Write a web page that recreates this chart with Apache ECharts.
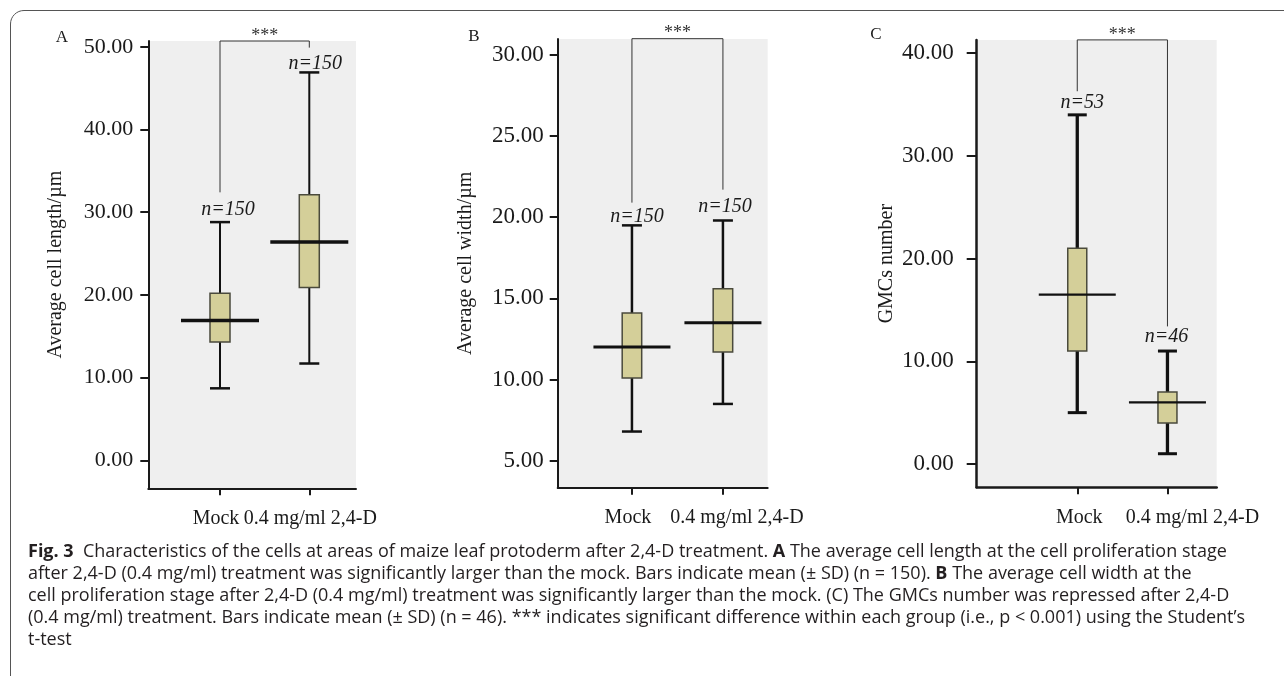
<!DOCTYPE html>
<html>
<head>
<meta charset="utf-8">
<script src="https://cdn.jsdelivr.net/npm/echarts@6/dist/echarts.min.js"></script>
<style>
  html, body { margin: 0; padding: 0; background: #fff; }
  #chart { width: 1284px; height: 676px; }
</style>
</head>
<body>
<div id="chart"></div>
<script>
// ---------------- DATA ----------------
const categories = ['Mock', '0.4 mg/ml 2,4-D'];
// each: [whisker low, box low, mean, box high, whisker high]
const lengthMock = [8.7, 14.3, 16.9, 20.2, 28.8];
const lengthDrug = [11.7, 20.9, 26.4, 32.1, 46.9];
const widthMock = [6.8, 10.1, 12.0, 14.1, 19.5];
const widthDrug = [8.5, 11.7, 13.5, 15.6, 19.8];
const gmcMock = [5, 11, 16.5, 21, 34];
const gmcDrug = [1, 4, 6, 7, 11];
const lengthN = ['n=150', 'n=150'];
const widthN = ['n=150', 'n=150'];
const gmcN = ['n=53', 'n=46'];
const lengthTicks = [0, 10, 20, 30, 40, 50];
const widthTicks = [5, 10, 15, 20, 25, 30];
const gmcTicks = [0, 10, 20, 30, 40];
// significance bracket: [left leg bottom, bracket top, right leg bottom]
const lengthBracket = [32.4, 50.7, 49.9];
const widthBracket = [20.9, 31.0, 21.7];
const gmcBracket = [36.3, 41.3, 13.4];
const yNames = ['Average cell length/µm', 'Average cell width/µm', 'GMCs number'];
const panelLetters = ['A', 'B', 'C'];
const sigMark = '***';
const captionLines = [
  '{b|Fig. 3}  Characteristics of the cells at areas of maize leaf protoderm after 2,4-D treatment. {b|A} The average cell length at the cell proliferation stage',
  'after 2,4-D (0.4 mg/ml) treatment was significantly larger than the mock. Bars indicate mean (± SD) (n = 150). {b|B} The average cell width at the',
  'cell proliferation stage after 2,4-D (0.4 mg/ml) treatment was significantly larger than the mock. (C) The GMCs number was repressed after 2,4-D',
  '(0.4 mg/ml) treatment. Bars indicate mean (± SD) (n = 46). *** indicates significant difference within each group (i.e., p < 0.001) using the Student’s',
  't-test'
];

// ---------------- LAYOUT / STYLE ----------------
const SERIF = "'Liberation Serif', 'Times New Roman', serif";
const SANS = "'Open Sans', 'Noto Sans', sans-serif";
const INK = '#1a1a1a';
const CAPTION_SIZE = 18;

const panels = [
  { mock: lengthMock, drug: lengthDrug, n: lengthN, ticks: lengthTicks, bracket: lengthBracket,
    grid: { left: 148.3, top: 41, width: 207.7, height: 447.3 },
    x: [-0.803, 1.523], y: [-3.39, 50.7],
    tickFont: 22, tickMargin: 15, tickLen: 8, nameGap: 83,
    boxW: 20, capW: 20, meanW: 78, whiskW: 2, capLW: 2.5, meanLW: 3.5, axisW: 2,
    nOff: [[8, -12], [6, -9]], labShift: [-4, 1],
    letter: [62, 38] },
  { mock: widthMock, drug: widthDrug, n: widthN, ticks: widthTicks, bracket: widthBracket,
    grid: { left: 557.7, top: 39, width: 210, height: 448.7 },
    x: [-0.816, 1.492], y: [3.34, 30.98],
    tickFont: 23, tickMargin: 14, tickLen: 8, nameGap: 82,
    boxW: 19.5, capW: 20, meanW: 77, whiskW: 2.5, capLW: 2.5, meanLW: 3, axisW: 2,
    nOff: [[5, -9], [2, -14]], labShift: [-4, 14],
    letter: [474, 37] },
  { mock: gmcMock, drug: gmcDrug, n: gmcN, ticks: gmcTicks, bracket: gmcBracket,
    grid: { left: 976.7, top: 40, width: 240, height: 447.3 },
    x: [-1.115, 1.546], y: [-2.27, 41.29],
    tickFont: 23, tickMargin: 23, tickLen: 10, nameGap: 80,
    boxW: 19, capW: 19, meanW: 77, whiskW: 3.3, capLW: 3, meanLW: 2.3, axisW: 2.5,
    nOff: [[5, -12], [-1, -14]], labShift: [2, 25],
    letter: [876, 35] }
];

function padFor(s) { return s >= 0 ? [0, 0, 0, 2 * s] : [0, -2 * s, 0, 0]; }

const chart = echarts.init(document.getElementById('chart'), null, { renderer: 'canvas' });

const grids = [], xAxes = [], yAxes = [], series = [];

panels.forEach((p, i) => {
  grids.push(Object.assign({ show: true, backgroundColor: '#efefef', borderWidth: 0 }, p.grid));
  xAxes.push({
    type: 'value', gridIndex: i, min: p.x[0], max: p.x[1],
    axisLine: { show: true, onZero: false, lineStyle: { color: INK, width: p.axisW } },
    axisTick: { show: true, customValues: [0, 1], length: 7, lineStyle: { color: INK, width: 2 } },
    axisLabel: {
      show: true, customValues: [0, 1], margin: 20,
      formatter: v => (Math.round(v) === 0 ? '{m|' : '{d|') + categories[Math.round(v)] + '}',
      rich: {
        m: { fontFamily: SERIF, fontSize: 20, color: INK, padding: padFor(p.labShift[0]) },
        d: { fontFamily: SERIF, fontSize: 20, color: INK, padding: padFor(p.labShift[1]) }
      }
    },
    splitLine: { show: false }
  });
  yAxes.push({
    type: 'value', gridIndex: i, min: p.y[0], max: p.y[1],
    name: yNames[i], nameLocation: 'middle', nameGap: p.nameGap,
    nameTextStyle: { fontFamily: SERIF, fontSize: 20, color: INK },
    axisLine: { show: true, onZero: false, lineStyle: { color: INK, width: p.axisW } },
    axisTick: { show: true, customValues: p.ticks, length: p.tickLen, lineStyle: { color: INK, width: 2 } },
    axisLabel: {
      show: true, customValues: p.ticks, margin: p.tickMargin,
      formatter: v => Number(v).toFixed(2),
      fontFamily: SERIF, fontSize: p.tickFont, color: INK
    },
    splitLine: { show: false }
  });

  // box / whisker / mean marks
  series.push({
    type: 'custom', xAxisIndex: i, yAxisIndex: i, z: 3,
    encode: { x: 0, y: [1, 2, 3, 4, 5] },
    data: [[0].concat(p.mock), [1].concat(p.drug)],
    renderItem: function (params, api) {
      const x = api.value(0);
      const lo = api.coord([x, api.value(1)]);
      const q1 = api.coord([x, api.value(2)]);
      const mn = api.coord([x, api.value(3)]);
      const q3 = api.coord([x, api.value(4)]);
      const hi = api.coord([x, api.value(5)]);
      const cx = lo[0];
      const off = p.nOff[params.dataIndex];
      const lineStyle = (w) => ({ stroke: '#111', lineWidth: w });
      return {
        type: 'group',
        children: [
          { type: 'line', shape: { x1: cx, y1: hi[1], x2: cx, y2: q3[1] }, style: lineStyle(p.whiskW) },
          { type: 'line', shape: { x1: cx, y1: q1[1], x2: cx, y2: lo[1] }, style: lineStyle(p.whiskW) },
          { type: 'line', shape: { x1: cx - p.capW / 2, y1: hi[1], x2: cx + p.capW / 2, y2: hi[1] }, style: lineStyle(p.capLW) },
          { type: 'line', shape: { x1: cx - p.capW / 2, y1: lo[1], x2: cx + p.capW / 2, y2: lo[1] }, style: lineStyle(p.capLW) },
          { type: 'rect', shape: { x: cx - p.boxW / 2, y: q3[1], width: p.boxW, height: q1[1] - q3[1] },
            style: { fill: '#d4cf99', stroke: '#4a4a3c', lineWidth: 1.5 } },
          { type: 'line', shape: { x1: cx - p.meanW / 2, y1: mn[1], x2: cx + p.meanW / 2, y2: mn[1] }, style: lineStyle(p.meanLW) },
          { type: 'text', style: { x: cx + off[0], y: hi[1] + off[1], text: p.n[params.dataIndex],
              fontFamily: SERIF, fontStyle: 'italic', fontSize: 20, fill: INK, align: 'center', verticalAlign: 'middle' } }
        ]
      };
    }
  });

  // significance bracket
  series.push({
    type: 'custom', xAxisIndex: i, yAxisIndex: i, z: 2,
    encode: { x: [0, 1], y: [2, 3, 4] },
    data: [[0, 1].concat(p.bracket)],
    renderItem: function (params, api) {
      const a = api.coord([api.value(0), api.value(2)]);
      const b = api.coord([api.value(0), api.value(3)]);
      const c = api.coord([api.value(1), api.value(3)]);
      const d = api.coord([api.value(1), api.value(4)]);
      return {
        type: 'group',
        children: [
          { type: 'polyline', shape: { points: [a, b, c, d] }, style: { stroke: '#333', lineWidth: 1, fill: null } },
          { type: 'text', style: { x: (b[0] + c[0]) / 2, y: b[1] - 5, text: sigMark, fontFamily: SERIF, fontSize: 18,
              fill: '#333', align: 'center', verticalAlign: 'middle' } }
        ]
      };
    }
  });
});

// figure frame: left edge + rounded top-left corner + top edge
const frameR = 13.5, frameX = 10.5, frameY = 10.5;
const framePts = [[frameX, 676]];
for (let k = 0; k <= 8; k++) {
  const t = Math.PI + (k / 8) * (Math.PI / 2);
  framePts.push([frameX + frameR + frameR * Math.cos(t), frameY + frameR + frameR * Math.sin(t)]);
}
framePts.push([1284, frameY]);

const graphics = [
  { type: 'polyline', silent: true, shape: { points: framePts },
    style: { stroke: '#555', lineWidth: 1, fill: null } }
];
panels.forEach((p, i) => {
  graphics.push({ type: 'text', silent: true, style: { x: p.letter[0], y: p.letter[1], text: panelLetters[i],
    fontFamily: SERIF, fontSize: 17, fill: INK, align: 'center', verticalAlign: 'middle' } });
});
captionLines.forEach((line, k) => {
  graphics.push({ type: 'text', silent: true, style: { x: 28, y: 552 + k * 22, text: line,
    fontFamily: SANS, fontSize: CAPTION_SIZE, fill: '#231f20', align: 'left', verticalAlign: 'middle',
    rich: { b: { fontFamily: SANS, fontSize: CAPTION_SIZE, fontWeight: 'bold', fill: '#231f20' } } } });
});

chart.setOption({
  animation: false,
  backgroundColor: '#ffffff',
  grid: grids,
  xAxis: xAxes,
  yAxis: yAxes,
  series: series,
  graphic: graphics
});
</script>
</body>
</html>
